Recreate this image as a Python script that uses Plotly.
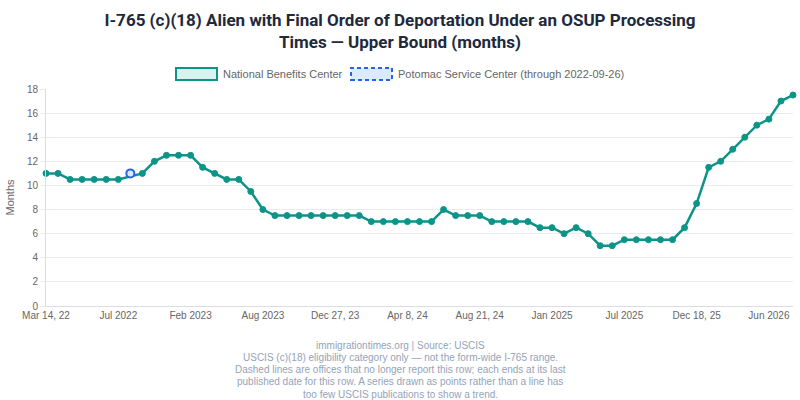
import plotly.graph_objects as go

# =========================
# Data
# =========================
labels = [
    "Mar 14, 22", "Apr 2022", "May 2022", "May 26, 22", "Jun 2022", "Jun 28, 22",
    "Jul 2022", "Sep 26, 22", "Oct 2022", "Nov 2022", "Dec 2022", "Jan 2023",
    "Feb 2023", "Mar 2023", "Apr 2023", "May 2023", "Jun 2023", "Jul 2023",
    "Aug 2023", "Sep 2023", "Oct 2023", "Oct 30, 23", "Nov 2023", "Dec 2023",
    "Dec 27, 23", "Jan 2024", "Feb 2024", "Feb 26, 24", "Mar 2024", "Mar 25, 24",
    "Apr 8, 24", "May 2024", "Jun 2024", "Jun 27, 24", "Jul 2024", "Aug 2024",
    "Aug 21, 24", "Sep 2024", "Oct 2024", "Nov 2024", "Dec 2024", "Dec 30, 24",
    "Jan 2025", "Feb 2025", "Mar 2025", "Apr 2025", "May 2025", "Jun 2025",
    "Jul 2025", "Aug 2025", "Sep 2025", "Oct 2025", "Nov 2025", "Dec 2025",
    "Dec 18, 25", "Jan 2026", "Feb 2026", "Mar 2026", "Apr 2026", "May 2026",
    "Jun 2026", "Jun 30, 26", "Jul 2026",
]

nbc = [
    11, 11, 10.5, 10.5, 10.5, 10.5, 10.5, None, 11, 12, 12.5, 12.5,
    12.5, 11.5, 11, 10.5, 10.5, 9.5, 8, 7.5, 7.5, 7.5, 7.5, 7.5,
    7.5, 7.5, 7.5, 7, 7, 7, 7, 7, 7, 8, 7.5, 7.5,
    7.5, 7, 7, 7, 7, 6.5, 6.5, 6, 6.5, 6, 5, 5,
    5.5, 5.5, 5.5, 5.5, 5.5, 6.5, 8.5, 11.5, 12, 13, 14, 15,
    15.5, 17, 17.5,
]

potomac = [None] * len(labels)
potomac[7] = 11

tick_labels = labels[::6]

footer_lines = [
    "immigrationtimes.org | Source: USCIS",
    "USCIS (c)(18) eligibility category only — not the form-wide I-765 range.",
    "Dashed lines are offices that no longer report this row; each ends at its last",
    "published date for this row. A series drawn as points rather than a line has",
    "too few USCIS publications to show a trend.",
]

TEAL = "#0d9488"
BLUE = "#2563eb"
GRAY = "#666666"

# plot area in pixels (Chart.js-like layout)
L, R, T, B = 46, 793, 89, 306
def px(x):
    return (x - L) / (R - L)
def py(y):
    return (B - y) / (B - T)

# =========================
# Figure
# =========================
fig = go.Figure()

fig.add_trace(go.Scatter(
    x=labels, y=nbc, name="National Benefits Center",
    mode="lines+markers", connectgaps=True, cliponaxis=False,
    line=dict(color=TEAL, width=2.5),
    marker=dict(size=6, color=TEAL, line=dict(color=TEAL, width=1)),
))

fig.add_trace(go.Scatter(
    x=labels, y=potomac, name="Potomac Service Center (through 2022-09-26)",
    mode="markers", cliponaxis=False,
    marker=dict(size=8, color="#dbeafe", line=dict(color=BLUE, width=2)),
))

# legend drawn as Chart.js-style boxes
legend_items = [
    (176, "National Benefits Center", TEAL, "#d9f2ef", "solid"),
    (351, "Potomac Service Center (through 2022-09-26)", BLUE, "#dbeafe", "4px,3px"),
]
for x0, text, border, fillc, dash in legend_items:
    fig.add_shape(
        type="rect", xref="paper", yref="paper",
        x0=px(x0), x1=px(x0 + 41), y0=py(80), y1=py(68),
        line=dict(color=border, width=2, dash=dash), fillcolor=fillc,
    )
    fig.add_annotation(
        text=text, xref="paper", yref="paper",
        x=px(x0 + 45), y=py(74),
        xanchor="left", yanchor="middle", showarrow=False,
        font=dict(size=11, color=GRAY),
    )

for i, line in enumerate(footer_lines):
    fig.add_annotation(
        text=line, xref="paper", yref="paper",
        x=px(400), y=py(345 + i * 12.3),
        xanchor="center", yanchor="middle", showarrow=False,
        font=dict(size=10, color="#94a3b8"),
    )

fig.update_layout(
    width=800, height=400,
    title=dict(
        text="I-765 (c)(18) Alien with Final Order of Deportation Under an OSUP Processing<br>Times — Upper Bound (months)",
        font=dict(family="Roboto", size=17, color="#1e293b", weight="bold"),
        x=0.5, xanchor="center", y=1 - 25.5 / 400, yanchor="middle",
    ),
    font=dict(family="Liberation Sans, Arial", size=10, color=GRAY),
    showlegend=False,
    plot_bgcolor="white", paper_bgcolor="white",
    margin=dict(l=L, r=800 - R, t=T, b=400 - B),
    xaxis=dict(
        type="category", range=[0, len(labels) - 1],
        tickmode="array", tickvals=tick_labels, ticktext=tick_labels,
        showgrid=False, showline=True, linecolor="#dcdce6", linewidth=1,
        ticks="", tickfont=dict(size=10, color=GRAY),
    ),
    yaxis=dict(
        range=[0, 18], dtick=2, showgrid=True, gridcolor="#ebebeb",
        showline=True, linecolor="#dcdce6", linewidth=1, zeroline=False,
        ticks="outside", ticklen=5, tickcolor="#ebebeb",
        tickfont=dict(size=10, color=GRAY),
        title=dict(text="Months", font=dict(size=11, color=GRAY), standoff=10),
    ),
)

fig.write_html(
    "out.html",
    config={"displayModeBar": False},
    post_script="document.body.style.margin='0';",
)
